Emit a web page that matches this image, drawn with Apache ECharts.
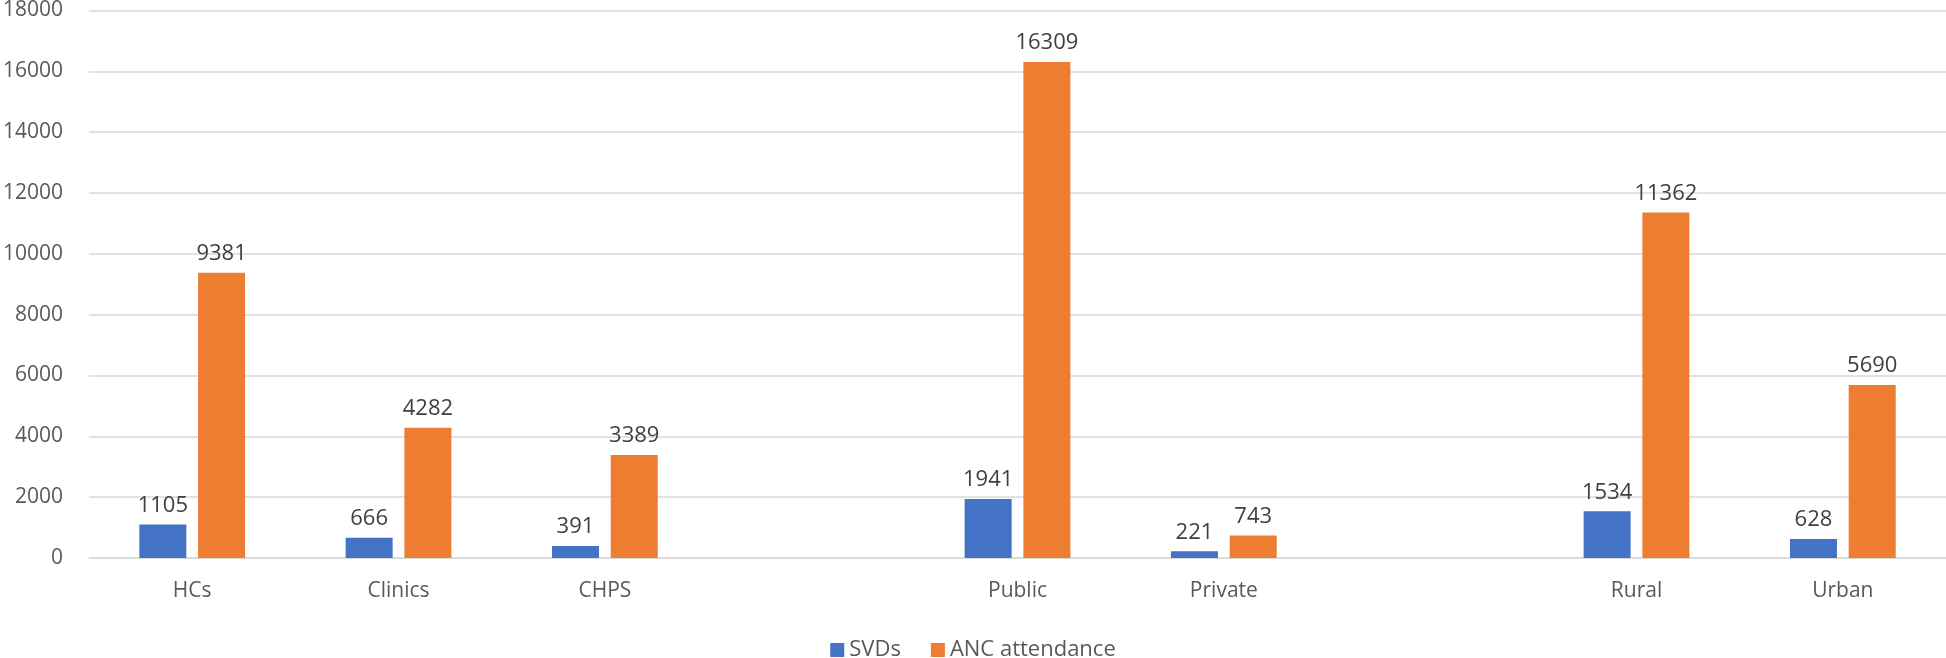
<!DOCTYPE html>
<html>
<head>
<meta charset="utf-8">
<script src="https://cdn.jsdelivr.net/npm/echarts@6/dist/echarts.min.js"></script>
<style>
  html, body { margin: 0; padding: 0; background: #fff; }
  #main { width: 1946px; height: 658px; }
</style>
</head>
<body>
<div id="main"></div>
<script>
// categories (empty slots are the gaps between groups)
var categories = ['HCs', 'Clinics', 'CHPS', '', 'Public', 'Private', '', 'Rural', 'Urban'];
var svds = [1105, 666, 391, '-', 1941, 221, '-', 1534, 628];
var ancAttendance = [9381, 4282, 3389, '-', 16309, 743, '-', 11362, 5690];
var seriesNames = ['SVDs', 'ANC attendance'];

var chart = echarts.init(document.getElementById('main'));
var font = '"Open Sans", "Noto Sans", sans-serif';

var labelStyle = {
  show: true,
  position: 'top',
  distance: 8,
  color: '#404040',
  fontSize: 22,
  fontFamily: font
};

var option = {
  animation: false,
  color: ['#4472C4', '#ED7D31'],
  textStyle: { fontFamily: font },
  legend: {
    data: seriesNames,
    left: 'center',
    top: 634,
    icon: 'rect',
    itemWidth: 14,
    itemHeight: 14,
    itemGap: 30,
    textStyle: { color: '#595959', fontSize: 22, fontFamily: font }
  },
  grid: {
    left: 88,
    right: 0,
    top: 9,
    bottom: 100
  },
  xAxis: {
    type: 'category',
    data: categories,
    axisTick: { show: false },
    axisLine: { lineStyle: { color: '#d9d9d9', width: 1.5 } },
    axisLabel: { color: '#595959', fontSize: 21, fontFamily: font, margin: 23 }
  },
  yAxis: {
    type: 'value',
    min: 0,
    max: 18000,
    interval: 2000,
    axisLine: { show: false },
    axisTick: { show: false },
    splitLine: { lineStyle: { color: '#d9d9d9', width: 1.5 } },
    axisLabel: {
      color: '#595959', fontSize: 21, fontFamily: font, margin: 26,
      formatter: function (v) { return String(v); }
    }
  },
  series: [
    {
      name: seriesNames[0],
      type: 'bar',
      data: svds,
      barWidth: 47,
      barGap: '25%',
      label: labelStyle
    },
    {
      name: seriesNames[1],
      type: 'bar',
      data: ancAttendance,
      barWidth: 47,
      barGap: '25%',
      label: labelStyle
    }
  ]
};

chart.setOption(option);
</script>
</body>
</html>
